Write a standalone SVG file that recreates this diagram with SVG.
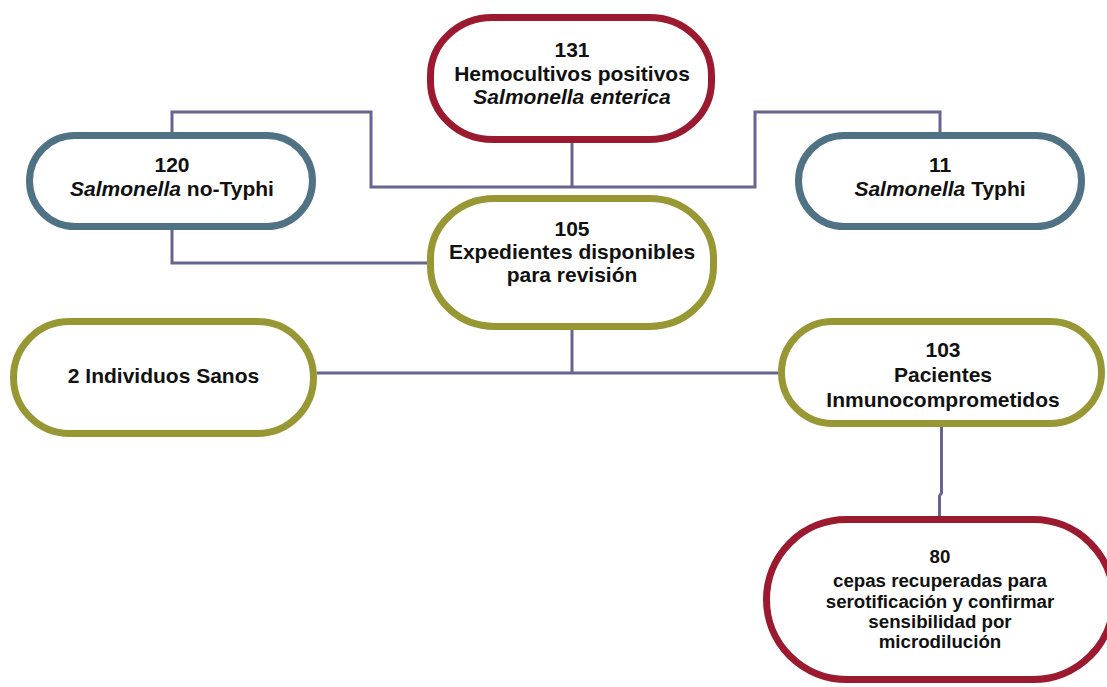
<svg xmlns="http://www.w3.org/2000/svg" width="1107" height="687" viewBox="0 0 1107 687">
<style>
.node{fill:#ffffff;stroke-width:7}
.red{stroke:#9c1a30}
.blue{stroke:#4f7284}
.olive{stroke:#979834}
.conn{fill:none;stroke:#65658f;stroke-width:3}
text{font-family:"Liberation Sans",Arial,sans-serif;font-weight:bold;fill:#111111;text-anchor:middle}
.t{font-size:21px}
.s{font-size:18.7px}
.i{font-style:italic}
</style>
<rect width="1107" height="687" fill="#ffffff"/>
<g id="connectors">
<path class="conn" d="M572,143 V187 M172,132 V112 H371 V187 H755 V112 H940 V132"/>
<path class="conn" d="M172,230 V263 H428"/>
<path class="conn" d="M572,330 V373 M317,373 H779"/>
<path class="conn" d="M941.5,427 V493 L939.5,496 V517"/>
</g>
<g id="node-131">
<rect class="node red" x="430.5" y="17.5" width="281" height="122" rx="62" ry="58"/>
<text class="t" x="572" y="57">131</text>
<text class="t" x="572" y="81">Hemocultivos positivos</text>
<text class="t i" x="572" y="104">Salmonella enterica</text>
</g>
<g id="node-120">
<rect class="node blue" x="29.5" y="135.5" width="283" height="91" rx="45.5"/>
<text class="t" x="172" y="172">120</text>
<text class="t" x="172" y="196"><tspan class="i">Salmonella</tspan> no-Typhi</text>
</g>
<g id="node-11">
<rect class="node blue" x="798.5" y="135.5" width="283" height="91" rx="45.5"/>
<text class="t" x="940" y="172">11</text>
<text class="t" x="940" y="196"><tspan class="i">Salmonella</tspan> Typhi</text>
</g>
<g id="node-105">
<rect class="node olive" x="430.5" y="198.5" width="283" height="128" rx="64" ry="60"/>
<text class="t" x="572" y="236">105</text>
<text class="t" x="572" y="259">Expedientes disponibles</text>
<text class="t" x="572" y="282">para revisión</text>
</g>
<g id="node-2">
<rect class="node olive" x="13.5" y="321.5" width="300" height="112" rx="56"/>
<text class="t" x="163.5" y="383">2 Individuos Sanos</text>
</g>
<g id="node-103">
<rect class="node olive" x="781.5" y="321.5" width="320" height="102" rx="51"/>
<text class="t" x="943" y="357">103</text>
<text class="t" x="943" y="382">Pacientes</text>
<text class="t" x="943" y="407">Inmunocomprometidos</text>
</g>
<g id="node-80">
<rect class="node red" x="766.5" y="519.5" width="347" height="160" rx="80"/>
<text class="s" x="940" y="563">80</text>
<text class="s" x="940" y="587">cepas recuperadas para</text>
<text class="s" x="940" y="608">serotificación y confirmar</text>
<text class="s" x="940" y="628">sensibilidad por</text>
<text class="s" x="940" y="648">microdilución</text>
</g>
</svg>
